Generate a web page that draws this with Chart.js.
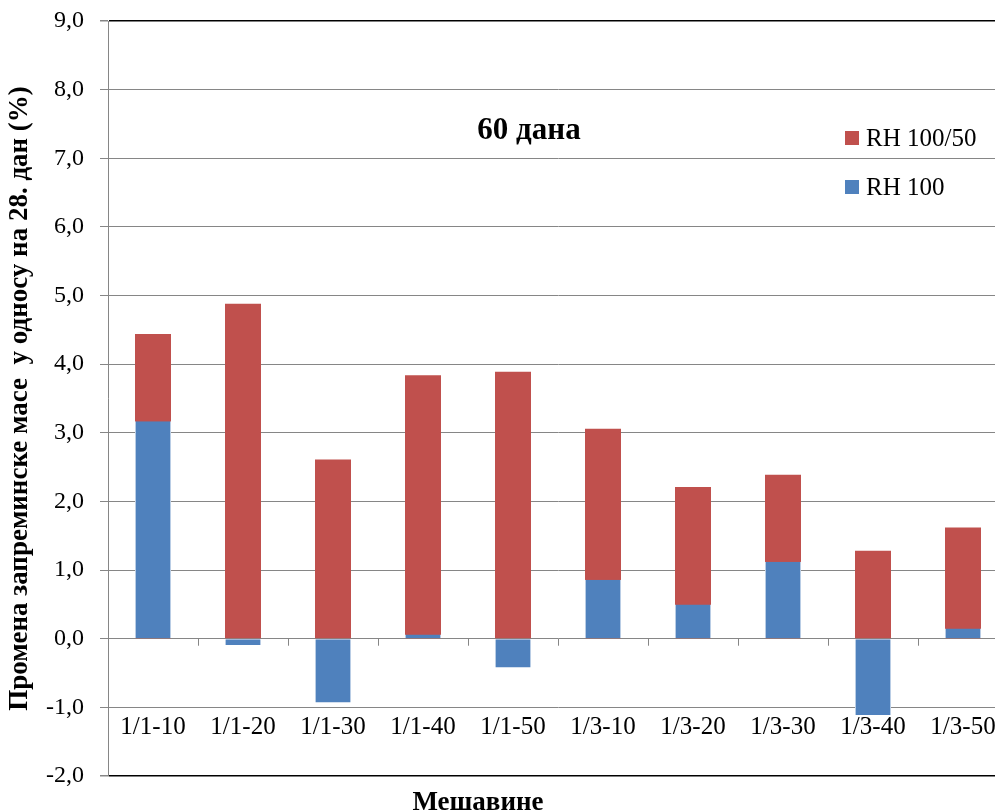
<!DOCTYPE html>
<html>
<head>
<meta charset="utf-8">
<script src="https://cdn.jsdelivr.net/npm/chart.js@4.4.1/dist/chart.umd.min.js"></script>
<style>
  html, body { margin: 0; padding: 0; background: #fff; overflow: hidden; width: 995px; height: 812px; }
  canvas { display: block; }
</style>
</head>
<body>
<canvas id="c" width="1020" height="812" style="width:1020px;height:812px"></canvas>
<script>
// Mixtures (categories)
const categories = ['1/1-10', '1/1-20', '1/1-30', '1/1-40', '1/1-50', '1/3-10', '1/3-20', '1/3-30', '1/3-40', '1/3-50'];
// Change in bulk mass relative to day 28 (%), after 60 days
const rh100_50 = [4.44, 4.88, 2.61, 3.84, 3.89, 3.06, 2.21, 2.39, 1.28, 1.62];
const rh100 = [3.17, -0.09, -0.93, 0.06, -0.42, 0.86, 0.50, 1.12, -1.11, 0.15];
// Axis settings
const yMin = -2, yMax = 9, yStep = 1;
const chartTitle = '60 дана';
const xTitle = 'Мешавине';
const yTitle = 'Промена запреминске масе  у односу на 28. дан (%)';
const seriesNames = ['RH 100/50', 'RH 100'];
const colors = { red: '#C0504D', blue: '#4F81BD' };

const SERIF = '"Liberation Serif", "Times New Roman", serif';

// Draws category labels under the zero line, zero-line tick marks, the inner title and the legend
const annotate = {
  id: 'annotate',
  afterDatasetsDraw(chart) {
    const { ctx, chartArea: a, scales: { x, y } } = chart;
    const y0 = y.getPixelForValue(0);
    ctx.save();
    // tick marks between categories on the zero line
    ctx.strokeStyle = '#868686';
    ctx.lineWidth = 1;
    const half = (x.getPixelForValue(1) - x.getPixelForValue(0)) / 2;
    ctx.beginPath();
    for (let i = 0; i < categories.length; i++) {
      const px = Math.round(x.getPixelForValue(i) + half) + 0.5;
      ctx.moveTo(px, y0);
      ctx.lineTo(px, y0 + 7);
    }
    ctx.stroke();
    // category labels
    ctx.fillStyle = '#000';
    ctx.font = '25px ' + SERIF;
    ctx.textAlign = 'center';
    ctx.textBaseline = 'middle';
    categories.forEach((c, i) => {
      ctx.fillText(c, x.getPixelForValue(i), y0 + 89);
    });
    // inner title
    ctx.font = 'bold 31px ' + SERIF;
    ctx.fillText(chartTitle, a.left + 421, a.top + 110);
    // legend
    ctx.font = '25px ' + SERIF;
    ctx.textAlign = 'left';
    const items = [[seriesNames[0], colors.red], [seriesNames[1], colors.blue]];
    items.forEach(([name, col], k) => {
      const cy = a.top + 117 + k * 49;
      ctx.fillStyle = col;
      ctx.fillRect(a.right - 163, cy - 7, 14, 14);
      ctx.fillStyle = '#000';
      ctx.fillText(name, a.right - 142, cy + 1);
    });
    // x axis title
    ctx.font = 'bold 27px ' + SERIF;
    ctx.textAlign = 'center';
    ctx.fillText(xTitle, a.left + 370, a.bottom + 27);
    ctx.restore();
  }
};

new Chart(document.getElementById('c'), {
  type: 'bar',
  data: {
    labels: categories,
    datasets: [
      { label: seriesNames[1], data: rh100, backgroundColor: colors.blue, borderColor: '#B9CDE5',
        borderWidth: { left: 1, right: 1, top: 0, bottom: 0 }, barPercentage: 0.4, categoryPercentage: 1 },
      { label: seriesNames[0], data: rh100_50, backgroundColor: colors.red, barPercentage: 0.4, categoryPercentage: 1 }
    ]
  },
  options: {
    responsive: false,
    animation: false,
    layout: { padding: { top: 21, right: 12, bottom: 36, left: 0 } },
    plugins: { legend: { display: false }, tooltip: { enabled: false } },
    scales: {
      x: { display: false, stacked: true, offset: true },
      y: {
        stacked: false,
        min: yMin, max: yMax,
        afterFit(s) { s.width = 108; s.paddingTop = 0; s.paddingBottom = 0; },
        ticks: {
          stepSize: yStep,
          padding: 16,
          color: '#000',
          font: { family: SERIF, size: 24 },
          callback: v => v.toFixed(1).replace('.', ',')
        },
        grid: {
          color: c => (c.tick && (c.tick.value === yMax || c.tick.value === yMin)) ? '#000' : '#868686',
          lineWidth: c => (c.tick && (c.tick.value === yMax || c.tick.value === yMin)) ? 1.5 : 1,
          tickColor: '#868686',
          tickLength: 8
        },
        border: { color: '#868686', width: 1 },
        title: {
          display: true,
          text: yTitle,
          color: '#000',
          font: { family: SERIF, size: 27, weight: 'bold' },
          padding: { top: 4, bottom: 0 }
        }
      }
    }
  },
  plugins: [annotate]
});
</script>
</body>
</html>
